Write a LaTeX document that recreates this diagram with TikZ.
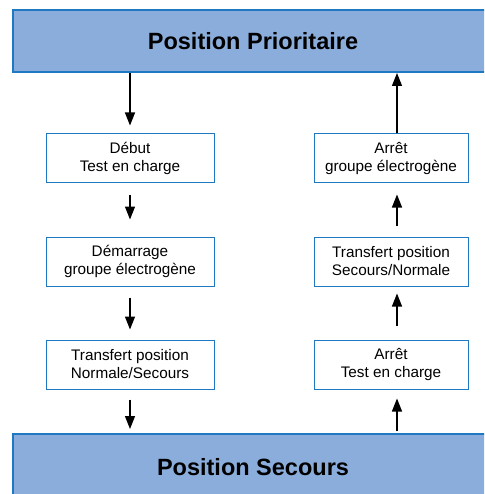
\documentclass[tikz,border=0pt]{standalone}
\usepackage{fontspec}
\setmainfont{Liberation Sans}
\usepackage{tikz}
\usetikzlibrary{arrows.meta,positioning}
\definecolor{barfill}{RGB}{139,173,219}
\definecolor{edgeblue}{RGB}{30,120,194}
\tikzset{
 bar/.style={
 rectangle,
 draw=edgeblue,
 fill=barfill,
 line width=2pt,
 minimum width=480pt,
 minimum height=62pt,
 font=\fontsize{23.5}{28}\selectfont\bfseries
 },
 stepbox/.style={
 rectangle,
 draw=edgeblue,
 line width=1pt,
 align=center,
 inner sep=0pt,
 minimum height=49pt,
 font=\fontsize{15.3}{18}\selectfont
 },
 flowarrow/.style={-{Triangle[length=13pt,width=10pt]}, line width=1.3pt}
}

\begin{document}
\begin{tikzpicture}[x=1pt, y=-1pt, node distance=53pt and 99pt]
 \clip (0,0) rectangle (484,494);
 \node[bar] (prio) at (253,41) {Position Prioritaire};
 \node[bar, minimum height=66pt] (secours) at (253,467) {Position Secours};

 \node[stepbox, minimum width=168pt] (debut) at (130,158.5) {Début\\Test en charge};
 \node[stepbox, minimum width=168pt, below=of debut] (demarrage) {Démarrage\\groupe électrogène};
 \node[stepbox, minimum width=168pt, below=of demarrage] (transNS) {Transfert position\\Normale/Secours};

 \node[stepbox, minimum width=154pt, right=of debut] (arretGE) {Arrêt\\groupe électrogène};
 \node[stepbox, minimum width=154pt, below=of arretGE] (transSN) {Transfert position\\Secours/Normale};
 \node[stepbox, minimum width=154pt, below=of transSN] (arretTC) {Arrêt\\Test en charge};
 \coordinate (rx) at ([xshift=6pt]arretGE.north);

 % descente
 \draw[flowarrow, shorten >=8pt] (prio.south -| debut) -- (debut.north);
 \draw[flowarrow, shorten <=11pt, shorten >=17pt] (debut.south) -- (demarrage.north);
 \draw[flowarrow, shorten <=11pt, shorten >=10pt] (demarrage.south) -- (transNS.north);
 \draw[flowarrow, shorten <=10pt, shorten >=4pt] (transNS.south) -- (secours.north -| transNS);

 % retour
 \draw[flowarrow, shorten <=2pt, shorten >=9pt] (secours.north -| rx) -- (arretTC.south -| rx);
 \draw[flowarrow, shorten <=14pt, shorten >=7pt] (arretTC.north -| rx) -- (transSN.south -| rx);
 \draw[flowarrow, shorten <=11pt, shorten >=11pt] (transSN.north -| rx) -- (arretGE.south -| rx);
 \draw[flowarrow] (rx) -- (prio.south -| rx);
\end{tikzpicture}
\end{document}
